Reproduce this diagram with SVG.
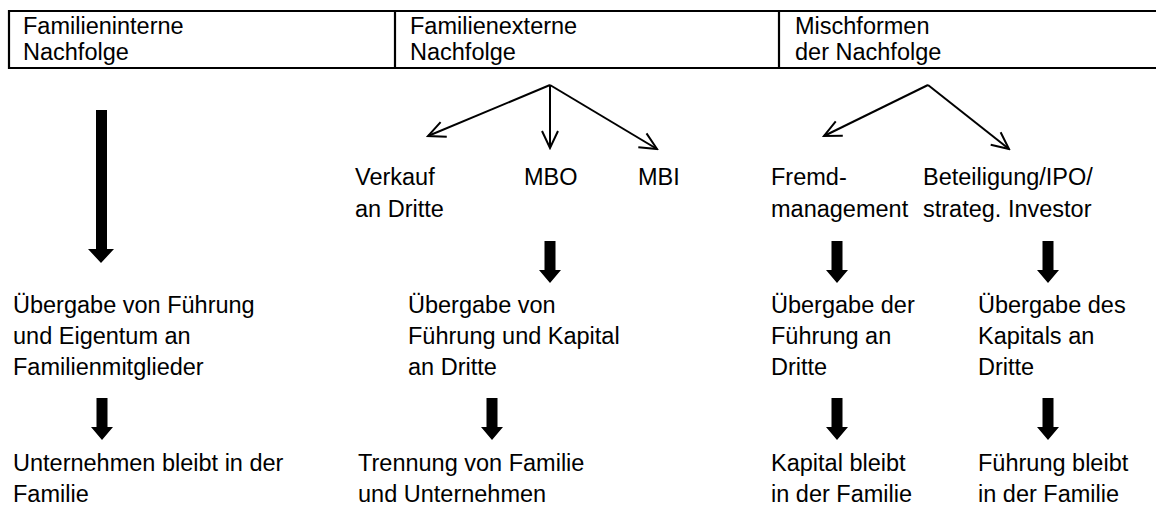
<svg xmlns="http://www.w3.org/2000/svg" xmlns:xlink="http://www.w3.org/1999/xlink" width="1156" height="506" viewBox="0 0 1156 506">
<style>
text{font-family:"Liberation Sans",Arial,sans-serif;font-size:23.5px;fill:#000}
.frame{stroke:#000;stroke-width:2.2;fill:none}
.thin{stroke:#000;stroke-width:2;fill:none}
</style>
<defs>
<marker id="open" viewBox="0 0 20 20" refX="18" refY="10" markerWidth="20" markerHeight="20" markerUnits="userSpaceOnUse" orient="auto">
<path d="M1,2 L18,10 L1,18" fill="none" stroke="#000" stroke-width="2"/>
</marker>
<path id="sa" d="M-5.5,0 H5.5 V29 H11 L0,42 L-11,29 H-5.5 Z" fill="#000"/>
</defs>
<rect width="1156" height="506" fill="#fff"/>
<g id="header">
<path class="frame" d="M8,11 H1156 M8,68 H1156 M9,10 V69 M395,11 V68 M779,11 V68"/>
<text x="23" y="34">Familieninterne</text>
<text x="23" y="60">Nachfolge</text>
<text x="410" y="34">Familienexterne</text>
<text x="410" y="60">Nachfolge</text>
<text x="795" y="34">Mischformen</text>
<text x="795" y="60">der Nachfolge</text>
</g>
<g id="connectors">
<path d="M96,110 H107 V249 H114 L101,263 L88,249 H96 Z" fill="#000"/>
<use xlink:href="#sa" x="102" y="398"/>
<use xlink:href="#sa" x="550" y="241"/>
<use xlink:href="#sa" x="492" y="398"/>
<use xlink:href="#sa" x="837" y="241"/>
<use xlink:href="#sa" x="837" y="398"/>
<use xlink:href="#sa" x="1048" y="241"/>
<use xlink:href="#sa" x="1048" y="398"/>
<line class="thin" x1="550" y1="85" x2="428" y2="136" marker-end="url(#open)"/>
<line class="thin" x1="550" y1="85" x2="550" y2="148" marker-end="url(#open)"/>
<line class="thin" x1="550" y1="85" x2="657" y2="149" marker-end="url(#open)"/>
<line class="thin" x1="928" y1="85" x2="824" y2="136" marker-end="url(#open)"/>
<line class="thin" x1="928" y1="85" x2="1009" y2="149" marker-end="url(#open)"/>
</g>
<g id="n-verkauf"><text x="355" y="185">Verkauf</text><text x="355" y="217">an Dritte</text></g>
<g id="n-mbo"><text x="524" y="185">MBO</text></g>
<g id="n-mbi"><text x="638" y="185">MBI</text></g>
<g id="n-fremd"><text x="771" y="185">Fremd-</text><text x="771" y="217">management</text></g>
<g id="n-beteil"><text x="923" y="185">Beteiligung/IPO/</text><text x="923" y="217">strateg. Investor</text></g>
<g id="n-uebergabe1"><text x="13" y="313">Übergabe von Führung</text><text x="13" y="344">und Eigentum an</text><text x="13" y="375">Familienmitglieder</text></g>
<g id="n-uebergabe2"><text x="408" y="313">Übergabe von</text><text x="408" y="344">Führung und Kapital</text><text x="408" y="375">an Dritte</text></g>
<g id="n-uebergabe3"><text x="771" y="313">Übergabe der</text><text x="771" y="344">Führung an</text><text x="771" y="375">Dritte</text></g>
<g id="n-uebergabe4"><text x="978" y="313">Übergabe des</text><text x="978" y="344">Kapitals an</text><text x="978" y="375">Dritte</text></g>
<g id="n-ergebnis1"><text x="13" y="471">Unternehmen bleibt in der</text><text x="13" y="502">Familie</text></g>
<g id="n-ergebnis2"><text x="358" y="471">Trennung von Familie</text><text x="358" y="502">und Unternehmen</text></g>
<g id="n-ergebnis3"><text x="771" y="471">Kapital bleibt</text><text x="771" y="502">in der Familie</text></g>
<g id="n-ergebnis4"><text x="978" y="471">Führung bleibt</text><text x="978" y="502">in der Familie</text></g>
</svg>
